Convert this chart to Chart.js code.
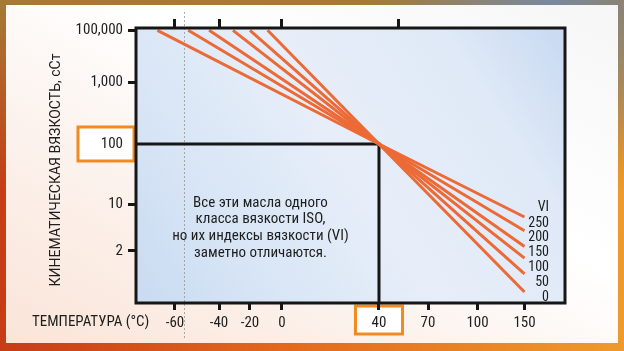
<!DOCTYPE html>
<html>
<head>
<meta charset="utf-8">
<script src="https://cdn.jsdelivr.net/npm/chart.js@4.4.0/dist/chart.umd.min.js"></script>
<style>
  html, body { margin: 0; padding: 0; }
  body {
    width: 624px; height: 351px; overflow: hidden; position: relative;
    background:
      radial-gradient(circle at 88% 0%, rgba(118,138,165,0.95), rgba(118,138,165,0) 28%),
      linear-gradient(to bottom, #a57a36 0%, rgba(165,122,54,0) 55%),
      linear-gradient(to right, #c63c16 0%, #e2681c 45%, #ef9a2c 100%);
  }
  #panel {
    position: absolute; left: 6px; top: 5px; width: 612px; height: 338px;
    background: linear-gradient(to top right, #fae4d8 0%, #fcf3ee 35%, #ffffff 60%, #f6f6f6 100%);
  }
  #wrap { position: absolute; left: 0; top: 0; width: 624px; height: 351px; }
</style>
</head>
<body>
<div id="panel"></div>
<div id="wrap"><canvas id="c"></canvas></div>
<script>
// temperature axis (°C), bottom ticks and the unlabeled top ticks
const tempTicks = [-60, -40, -20, 0, 40, 70, 100, 150];
const tempTopTicks = [-60, -40, 0, 52];
// viscosity axis (cSt)
const viscTicks = [100000, 1000, 100, 10, 2];
const viscTickLabels = ['100,000', '1,000', '100', '10', '2'];

// oils of one ISO grade, different VI
const viValues = [250, 200, 150, 100, 50, 0];
const startTemps = [-68, -54, -44.5, -31, -20, -9];
const startVisc = [100000, 100000, 100000, 100000, 100000, 100000];
const refTemp = 40;
const refVisc = 100;
const endTemp = 150;
const endVisc = [6.4, 4.0, 2.33, 1.57, 0.91, 0.49];

const guideTemp = -56;
const noteLines = ['Все эти масла одного', 'класса вязкости ISO,', 'но их индексы вязкости (VI)', 'заметно отличаются.'];

const FONT = '"Roboto Condensed", "Liberation Sans Narrow", "Arial Narrow", "DejaVu Sans Condensed", Roboto, sans-serif';
const ORANGE_LINE = '#ec6a35';
const ORANGE_BOX = '#f28a22';
const INK = '#161616';

// the chart's axes are not linear: position of each tick along the axis (0..1)
const knotDefs = {
  x: { log: false, values: tempTicks, decimals: [0.0909, 0.1935, 0.2657, 0.3403, 0.5664, 0.6807, 0.7960, 0.9056] },
  y: { log: true, values: viscTicks, decimals: [0.9916, 0.8011, 0.5782, 0.3600, 0.1891] }
};
knotDefs.xTop = knotDefs.x;

function interp(xs, ys, t) {
  let i = 0;
  if (t >= xs[xs.length - 1]) i = xs.length - 2;
  else if (t > xs[0]) while (t > xs[i + 1]) i++;
  return ys[i] + (t - xs[i]) * (ys[i + 1] - ys[i]) / (xs[i + 1] - xs[i]);
}

class KnotScale extends Chart.LinearScale {
  _knots() {
    const k = knotDefs[this.id];
    const f = k.log ? Math.log10 : (v => v);
    const pairs = k.values.map((v, i) => [f(v), k.decimals[i]]).sort((a, b) => a[0] - b[0]);
    return { f, log: k.log, ts: pairs.map(p => p[0]), ds: pairs.map(p => p[1]) };
  }
  getPixelForValue(v) {
    const k = this._knots();
    return this.getPixelForDecimal(interp(k.ts, k.ds, k.f(v)));
  }
  getValueForPixel(p) {
    const k = this._knots();
    const t = interp(k.ds, k.ts, this.getDecimalForPixel(p));
    return k.log ? Math.pow(10, t) : t;
  }
}
KnotScale.id = 'knot';
KnotScale.defaults = {};
Chart.register(KnotScale);

const datasets = viValues.map((vi, i) => ({
  label: 'VI ' + vi,
  data: [
    { x: startTemps[i], y: startVisc[i] },
    { x: refTemp, y: refVisc },
    { x: endTemp, y: endVisc[i] }
  ],
  borderColor: ORANGE_LINE,
  borderWidth: 3,
  pointRadius: 0,
  tension: 0
}));
datasets.push({
  label: 'ref',
  data: [{ x: -78, y: refVisc }, { x: refTemp, y: refVisc }, { x: refTemp, y: 0.3 }],
  borderColor: INK,
  borderWidth: 3,
  pointRadius: 0,
  tension: 0
});

const tickGrid = (len, hide) => ({
  drawOnChartArea: false,
  drawTicks: true,
  tickLength: len,
  tickWidth: 3,
  tickColor: hide ? (c => (c.tick && c.tick.value === hide ? 'rgba(0,0,0,0)' : INK)) : INK
});

const plotBack = {
  id: 'plotBack',
  beforeDraw(chart) {
    const { ctx, chartArea: a, scales } = chart;
    ctx.save();
    const g = ctx.createLinearGradient(a.left, a.bottom, a.right, a.top);
    g.addColorStop(0, '#c9dbf1');
    g.addColorStop(0.25, '#d9e6f6');
    g.addColorStop(0.5, '#e7eef9');
    g.addColorStop(0.8, '#dfe9f7');
    g.addColorStop(1, '#c7d9f1');
    ctx.fillStyle = g;
    ctx.fillRect(a.left, a.top, a.right - a.left, a.bottom - a.top);

    // highlighted tick labels
    ctx.lineWidth = 3;
    ctx.strokeStyle = ORANGE_BOX;
    ctx.fillStyle = '#ffffff';
    const yb = scales.y.getPixelForValue(refVisc);
    ctx.fillRect(78, yb - 17, a.left - 2 - 78, 34);
    ctx.strokeRect(78, yb - 17, a.left - 2 - 78, 34);
    const xb = scales.x.getPixelForValue(refTemp);
    ctx.fillRect(xb - 23.5, a.bottom + 3, 47, 28);
    ctx.strokeRect(xb - 23.5, a.bottom + 3, 47, 28);
    ctx.restore();
  },
  beforeDatasetsDraw(chart) {
    const { ctx, scales } = chart;
    const x = Math.round(scales.x.getPixelForValue(guideTemp)) + 0.5;
    ctx.save();
    ctx.strokeStyle = 'rgba(150,150,150,0.8)';
    ctx.lineWidth = 1;
    ctx.setLineDash([2, 2]);
    ctx.beginPath();
    ctx.moveTo(x, 12);
    ctx.lineTo(x, 338);
    ctx.stroke();
    ctx.restore();
  }
};

const overlay = {
  id: 'overlay',
  afterDatasetsDraw(chart) {
    const { ctx, chartArea: a, scales } = chart;
    ctx.save();
    ctx.strokeStyle = INK;
    ctx.lineWidth = 3;
    ctx.strokeRect(a.left, a.top, a.right - a.left, a.bottom - a.top);

    ctx.fillStyle = '#1e1e1e';
    ctx.textBaseline = 'middle';

    // note in the lower-left box
    ctx.font = '15px ' + FONT;
    ctx.textAlign = 'center';
    const cx = (a.left + scales.x.getPixelForValue(refTemp)) / 2 + 3;
    noteLines.forEach((t, i) => ctx.fillText(t, cx, 203 + i * 16.7));

    // VI labels by the line ends
    ctx.font = '14px ' + FONT;
    ctx.textAlign = 'right';
    const y0 = scales.y.getPixelForValue(endVisc[0]);
    ctx.fillText('VI', a.right - 16, y0 - 10);
    viValues.forEach((vi, i) => ctx.fillText(String(vi), a.right - 16, y0 + 6 + i * 14.8));

    // axis titles
    ctx.font = '15px ' + FONT;
    ctx.textAlign = 'left';
    ctx.fillText('ТЕМПЕРАТУРА (°C)', 32, 322);

    ctx.translate(56, 170);
    ctx.rotate(-Math.PI / 2);
    ctx.textAlign = 'center';
    ctx.font = '14px Roboto, sans-serif';
    ctx.fillText('КИНЕМАТИЧЕСКАЯ ВЯЗКОСТЬ, сСт', 0, 0);
    ctx.restore();
  }
};

new Chart(document.getElementById('c'), {
  type: 'line',
  data: { datasets },
  options: {
    responsive: true,
    maintainAspectRatio: false,
    animation: false,
    events: [],
    layout: { padding: { left: 0, right: 59, top: 0, bottom: 0 } },
    plugins: { legend: { display: false }, tooltip: { enabled: false } },
    scales: {
      x: {
        type: 'knot',
        position: 'bottom',
        min: -78, max: 193,
        afterBuildTicks: s => { s.ticks = tempTicks.map(v => ({ value: v })); },
        afterFit: s => { s.height = 48; },
        ticks: {
          autoSkip: false, maxRotation: 0, padding: 4,
          color: '#1e1e1e', font: { family: FONT, size: 15 },
          callback: (v, i) => String(tempTicks[i])
        },
        grid: tickGrid(7),
        border: { display: false }
      },
      xTop: {
        type: 'knot',
        axis: 'x',
        position: 'top',
        min: -78, max: 193,
        afterBuildTicks: s => { s.ticks = tempTopTicks.map(v => ({ value: v })); },
        afterFit: s => { s.height = 28; },
        ticks: { display: false },
        grid: tickGrid(9),
        border: { display: false }
      },
      y: {
        type: 'knot',
        position: 'left',
        min: 0.3, max: 130000,
        afterBuildTicks: s => { s.ticks = viscTicks.map(v => ({ value: v })); },
        afterFit: s => { s.width = 136; },
        ticks: {
          autoSkip: false, padding: 5,
          color: '#1e1e1e', font: { family: FONT, size: 15 },
          callback: (v, i) => viscTickLabels[i]
        },
        grid: tickGrid(8, refVisc),
        border: { display: false }
      }
    }
  },
  plugins: [plotBack, overlay]
});
</script>
</body>
</html>
